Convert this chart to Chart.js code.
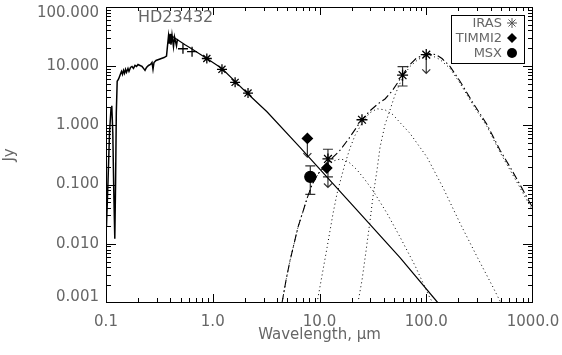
<!DOCTYPE html>
<html>
<head>
<meta charset="utf-8">
<script src="https://cdn.jsdelivr.net/npm/chart.js@4.4.0/dist/chart.umd.min.js"></script>
<style>
  body { margin: 0; background: #fff; }
  canvas { display: block; }
</style>
</head>
<body>
<canvas id="myChart" width="562" height="355"></canvas>
<script>
// SED of HD23432: spectrum, photosphere, photometry and dust model (micron / Jy)

var specWave = [0.1011, 0.1044, 0.1079, 0.1114, 0.1133, 0.1158, 0.1183, 0.1209, 0.1230, 0.1249, 0.1273, 0.1310, 0.1353, 0.1397, 0.1428, 0.1459, 0.1491, 0.1523, 0.1556, 0.1607, 0.1642, 0.1697, 0.1752, 0.1809, 0.1870, 0.1931, 0.1995, 0.2083, 0.2174, 0.2246, 0.2319, 0.2396, 0.2501, 0.2612, 0.2697, 0.2756, 0.2816, 0.2941, 0.3205, 0.3497, 0.3688, 0.3768, 0.3851, 0.3917, 0.3977, 0.4063, 0.4152, 0.4287, 0.4381, 0.4574, 0.4674];
var specFlux = [0.0199, 0.111, 0.756, 1.90, 2.13, 0.756, 0.0759, 0.0121, 0.111, 1.63, 5.54, 5.99, 6.98, 8.13, 7.25, 8.45, 7.53, 8.78, 7.83, 9.12, 8.13, 9.48, 9.85, 9.12, 10.23, 9.85, 10.63, 10.23, 9.85, 9.12, 8.45, 9.48, 10.23, 10.63, 11.48, 8.78, 11.48, 12.40, 13.13, 13.90, 14.73, 22.0, 32.3, 23.8, 34.9, 22.9, 33.6, 21.2, 31.1, 22.0, 28.8];

var photWave = [0.398, 0.424, 0.55, 0.612, 0.88, 1.22, 1.69, 2.14, 3.22, 6.57, 19.3, 56.8, 129];
var photFlux = [32.3, 31.1, 22.9, 20.4, 13.4, 9.1, 5.1, 3.37, 1.69, 0.425, 0.0498, 0.00582, 0.001];

var optWave = [0.526, 0.64];
var optFlux = [19.6, 17.5];

var nirWave = [0.88, 1.22, 1.62, 2.14];
var nirFlux = [13.4, 8.8, 5.3, 3.5];

var irasWave = [12, 25, 60, 100];
var irasFlux = [0.27, 1.24, 7.0, 15.6];
var irasLo = [0.135, null, 4.6, null];
var irasHi = [0.394, null, 9.8, null];
var irasLimit = [0.089, null, null, 7.5];

var timmiWave = [7.7, 11.7];
var timmiFlux = [0.60, 0.19];
var timmiLimit = [0.29, null];

var msxWave = [8.2];
var msxFlux = [0.135];
var msxLo = [0.068];
var msxHi = [0.206];

// dust model: total and three components
var totWave = [4.455, 4.855, 5.293, 5.77, 6.29, 7.01, 7.64, 8.51, 9.68, 11.5, 13.4, 15.6, 18.9, 22.5, 25.0, 29.7, 35.3, 41.1, 47.8, 56.8, 67.5, 80.2, 95.3, 108.4, 123.4, 140.5, 167, 207, 274, 371, 491, 609, 756, 1000];
var totFlux = [0.001, 0.00241, 0.00519, 0.00996, 0.0191, 0.0353, 0.058, 0.0993, 0.151, 0.2135, 0.290, 0.379, 0.601, 0.952, 1.244, 1.757, 2.30, 2.78, 3.78, 5.99, 9.85, 13.4, 15.6, 16.2, 15.6, 13.4, 9.85, 5.54, 2.39, 1.027, 0.379, 0.198, 0.0993, 0.0396];

var aWave = [4.455, 4.855, 5.293, 5.77, 6.29, 7.01, 7.64, 8.51, 9.68, 11.5, 13.4, 15.6, 17.3, 19.3, 22.5, 26.7, 31.7, 42.9, 56.8, 78.4, 108.4, 115.7];
var aFlux = [0.001, 0.00241, 0.00519, 0.00996, 0.0191, 0.0353, 0.058, 0.0993, 0.15, 0.21, 0.249, 0.269, 0.259, 0.230, 0.176, 0.120, 0.0788, 0.0327, 0.0130, 0.00429, 0.00121, 0.001];

var bWave = [9.48, 10.56, 11.76, 13.4, 14.6, 15.6, 17.3, 19.3, 21.5, 24.0, 26.7, 29.7, 34.6, 41.1, 48.8, 56.8, 70.5, 101.6, 143.6, 207, 299, 422, 501];
var bFlux = [0.001, 0.00292, 0.00855, 0.0327, 0.0703, 0.111, 0.222, 0.410, 0.674, 0.952, 1.29, 1.63, 1.90, 1.82, 1.51, 1.11, 0.728, 0.290, 0.0885, 0.0223, 0.00605, 0.00185, 0.001];

var cWave = [22.9, 25.0, 27.3, 29.7, 31.7, 34.6, 36.9, 41.1, 45.8, 50.9, 56.8, 63.3, 70.5, 83.7, 99.5, 113, 134.5, 167, 207, 274, 371, 491, 609, 756, 1000];
var cFlux = [0.001, 0.00241, 0.00762, 0.024, 0.0627, 0.176, 0.426, 1.03, 1.82, 3.24, 5.13, 7.53, 9.85, 12.88, 15.0, 15.0, 12.88, 9.12, 5.13, 2.21, 0.952, 0.351, 0.176, 0.0885, 0.0353];

var legendNames = ['IRAS', 'TIMMI2', 'MSX'];
var starName = 'HD23432';

var FONT = 'DejaVu Sans';
var TEXT = '#666';

function pts(xs, ys) {
    return xs.map(function (x, i) { return {x: x, y: ys[i]}; });
}
function isDecade(v) {
    var l = Math.log10(v);
    return Math.abs(l - Math.round(l)) < 1e-6;
}
function near(a, b) { return Math.abs(a / b - 1) < 1e-6; }

// 1..9 x 10^n positions between the axis limits
function logSteps(lo, hi) {
    var out = [];
    var e0 = Math.round(Math.log10(lo)), e1 = Math.round(Math.log10(hi));
    for (var e = e0; e <= e1; e++) {
        for (var k = 1; k < 10; k++) {
            if (e === e1 && k > 1) break;
            out.push({v: k * Math.pow(10, e), major: k === 1});
        }
    }
    return out;
}

// error bars and upper-limit arrows
var errorBars = {
    id: 'errorBars',
    beforeDatasetsDraw: function (chart) {
        var g = chart.ctx, xs = chart.scales.x, ys = chart.scales.y;
        g.save();
        g.setLineDash([]);
        g.strokeStyle = '#333';
        g.lineWidth = 1.2;
        function bar(w, lo, hi) {
            var px = xs.getPixelForValue(w), p1 = ys.getPixelForValue(lo), p2 = ys.getPixelForValue(hi);
            g.beginPath();
            g.moveTo(px, p1); g.lineTo(px, p2);
            g.moveTo(px - 5, p1); g.lineTo(px + 5, p1);
            g.moveTo(px - 5, p2); g.lineTo(px + 5, p2);
            g.stroke();
        }
        function arrow(w, from, to) {
            var px = xs.getPixelForValue(w), p1 = ys.getPixelForValue(from), p2 = ys.getPixelForValue(to);
            g.beginPath();
            g.moveTo(px, p1); g.lineTo(px, p2);
            g.moveTo(px - 4, p2 - 4); g.lineTo(px, p2); g.lineTo(px + 4, p2 - 4);
            g.stroke();
        }
        irasWave.forEach(function (w, i) {
            if (irasLo[i] != null) bar(w, irasLo[i], irasHi[i]);
            if (irasLimit[i] != null) arrow(w, irasLo[i] != null ? irasLo[i] : irasFlux[i], irasLimit[i]);
        });
        timmiWave.forEach(function (w, i) {
            if (timmiLimit[i] != null) arrow(w, timmiFlux[i], timmiLimit[i]);
        });
        msxWave.forEach(function (w, i) { bar(w, msxLo[i], msxHi[i]); });
        g.restore();
    }
};

// plot box with inward ticks, star name and boxed legend
var decorations = {
    id: 'decorations',
    afterDraw: function (chart) {
        var g = chart.ctx, a = chart.chartArea, xs = chart.scales.x, ys = chart.scales.y;
        var L = Math.round(a.left), R = Math.round(a.right) - 1;
        var T = Math.round(a.top), B = Math.round(a.bottom) - 1;
        g.save();
        g.setLineDash([]);
        g.fillStyle = '#000';
        // box
        g.fillRect(L, T, R - L + 1, 1);
        g.fillRect(L, B, R - L + 1, 1);
        g.fillRect(L, T, 1, B - T + 1);
        g.fillRect(R, T, 1, B - T + 1);
        // ticks
        logSteps(xs.min, xs.max).forEach(function (t) {
            var px = Math.round(xs.getPixelForValue(t.v));
            if (px > R) px = R;
            var len = t.major ? 8 : 4;
            g.fillRect(px, B - len, 1, len);
            g.fillRect(px, T, 1, len);
        });
        logSteps(ys.min, ys.max).forEach(function (t) {
            var py = Math.round(ys.getPixelForValue(t.v));
            if (py > B) py = B;
            var len = t.major ? 10 : 5;
            g.fillRect(L, py, len, 1);
            g.fillRect(R - len + 1, py, len, 1);
        });

        g.fillStyle = TEXT;
        g.font = '16px "' + FONT + '"';
        g.textBaseline = 'middle';
        g.textAlign = 'left';
        g.fillText(starName, a.left + 32, a.top + 11);

        var bx = 451, by = 15, bw = 73, bh = 48;
        g.strokeStyle = '#000';
        g.lineWidth = 1;
        g.strokeRect(bx + 0.5, by + 0.5, bw, bh);
        g.font = '13px "' + FONT + '"';
        g.textAlign = 'right';
        legendNames.forEach(function (name, i) {
            var y = by + 8 + i * 15;
            g.fillStyle = TEXT;
            g.fillText(name, bx + 51, y + 1);
            var sx = bx + 61;
            g.fillStyle = '#000';
            g.beginPath();
            if (i === 0) {
                g.strokeStyle = '#555';
                for (var k = 0; k < 4; k++) {
                    var ang = k * Math.PI / 4;
                    g.moveTo(sx - 5 * Math.cos(ang), y - 5 * Math.sin(ang));
                    g.lineTo(sx + 5 * Math.cos(ang), y + 5 * Math.sin(ang));
                }
                g.stroke();
            } else if (i === 1) {
                g.moveTo(sx, y - 5); g.lineTo(sx + 5, y); g.lineTo(sx, y + 5); g.lineTo(sx - 5, y);
                g.closePath();
                g.fill();
            } else {
                g.arc(sx, y, 5, 0, Math.PI * 2);
                g.fill();
            }
        });
        g.restore();
    }
};

function lineSet(xs, ys, width, dash) {
    return {
        data: pts(xs, ys),
        showLine: true,
        borderColor: '#000',
        borderWidth: width,
        borderDash: dash,
        pointRadius: 0,
        fill: false,
        tension: 0,
        order: 2
    };
}
function markSet(xs, ys, style, r, filled) {
    return {
        data: pts(xs, ys),
        showLine: false,
        pointStyle: style,
        pointRadius: r,
        borderColor: '#000',
        borderWidth: 1.3,
        backgroundColor: filled ? '#000' : 'rgba(0,0,0,0)',
        order: 0
    };
}

var canvasCtx = document.getElementById('myChart').getContext('2d');
var myChart = new Chart(canvasCtx, {
    type: 'scatter',
    data: {
        datasets: [
            markSet(irasWave, irasFlux, 'star', 5.5, false),
            markSet(timmiWave, timmiFlux, 'rectRot', 5, true),
            markSet(msxWave, msxFlux, 'circle', 5.5, true),
            markSet(nirWave, nirFlux, 'star', 5, false),
            markSet(optWave, optFlux, 'cross', 5, false),
            lineSet(specWave, specFlux, 1.5, []),
            lineSet(photWave, photFlux, 1.2, []),
            lineSet(totWave, totFlux, 1.1, [8, 3, 1.5, 3]),
            lineSet(aWave, aFlux, 1, [1, 3]),
            lineSet(bWave, bFlux, 1, [1, 3]),
            lineSet(cWave, cFlux, 1, [1, 3])
        ]
    },
    options: {
        responsive: false,
        animation: false,
        devicePixelRatio: 1,
        layout: { padding: { top: 2, right: 29, bottom: 0, left: 0 } },
        plugins: {
            legend: { display: false },
            tooltip: { enabled: false }
        },
        scales: {
            x: {
                type: 'logarithmic',
                min: 0.1,
                max: 1000,
                grid: { display: false, drawTicks: false },
                border: { display: false },
                ticks: {
                    autoSkip: false,
                    maxRotation: 0,
                    minRotation: 0,
                    padding: 10,
                    color: TEXT,
                    font: { family: FONT, size: 15 },
                    callback: function (v) { return isDecade(v) ? Number(v).toFixed(1) : ''; }
                },
                title: {
                    display: true,
                    text: 'Wavelength, \u03bcm',
                    color: TEXT,
                    font: { family: FONT, size: 15 },
                    padding: { top: 0, bottom: 11 }
                },
                afterFit: function (scale) {
                    scale.height = 52;
                    scale.paddingLeft = 0;
                    scale.paddingRight = 0;
                }
            },
            y: {
                type: 'logarithmic',
                min: 0.001,
                max: 100,
                grid: { display: false, drawTicks: false },
                border: { display: false },
                ticks: {
                    autoSkip: false,
                    padding: 7,
                    color: TEXT,
                    font: function (c) {
                        var v = c.tick ? c.tick.value : 1;
                        if (near(v, 100) || near(v, 0.001)) return { family: FONT, size: 15, lineHeight: '12px' };
                        return { family: FONT, size: 15 };
                    },
                    callback: function (v) {
                        if (!isDecade(v)) return '';
                        if (near(v, 100)) return ['', '100.000'];
                        if (near(v, 0.001)) return ['0.001', ''];
                        return Number(v).toFixed(3);
                    }
                },
                title: {
                    display: true,
                    text: 'Jy',
                    color: TEXT,
                    font: { family: FONT, size: 15 },
                    padding: { top: 1, bottom: 0 }
                },
                afterFit: function (scale) {
                    scale.width = 106;
                    scale.paddingTop = 0;
                    scale.paddingBottom = 0;
                }
            }
        }
    },
    plugins: [errorBars, decorations]
});
</script>
</body>
</html>
